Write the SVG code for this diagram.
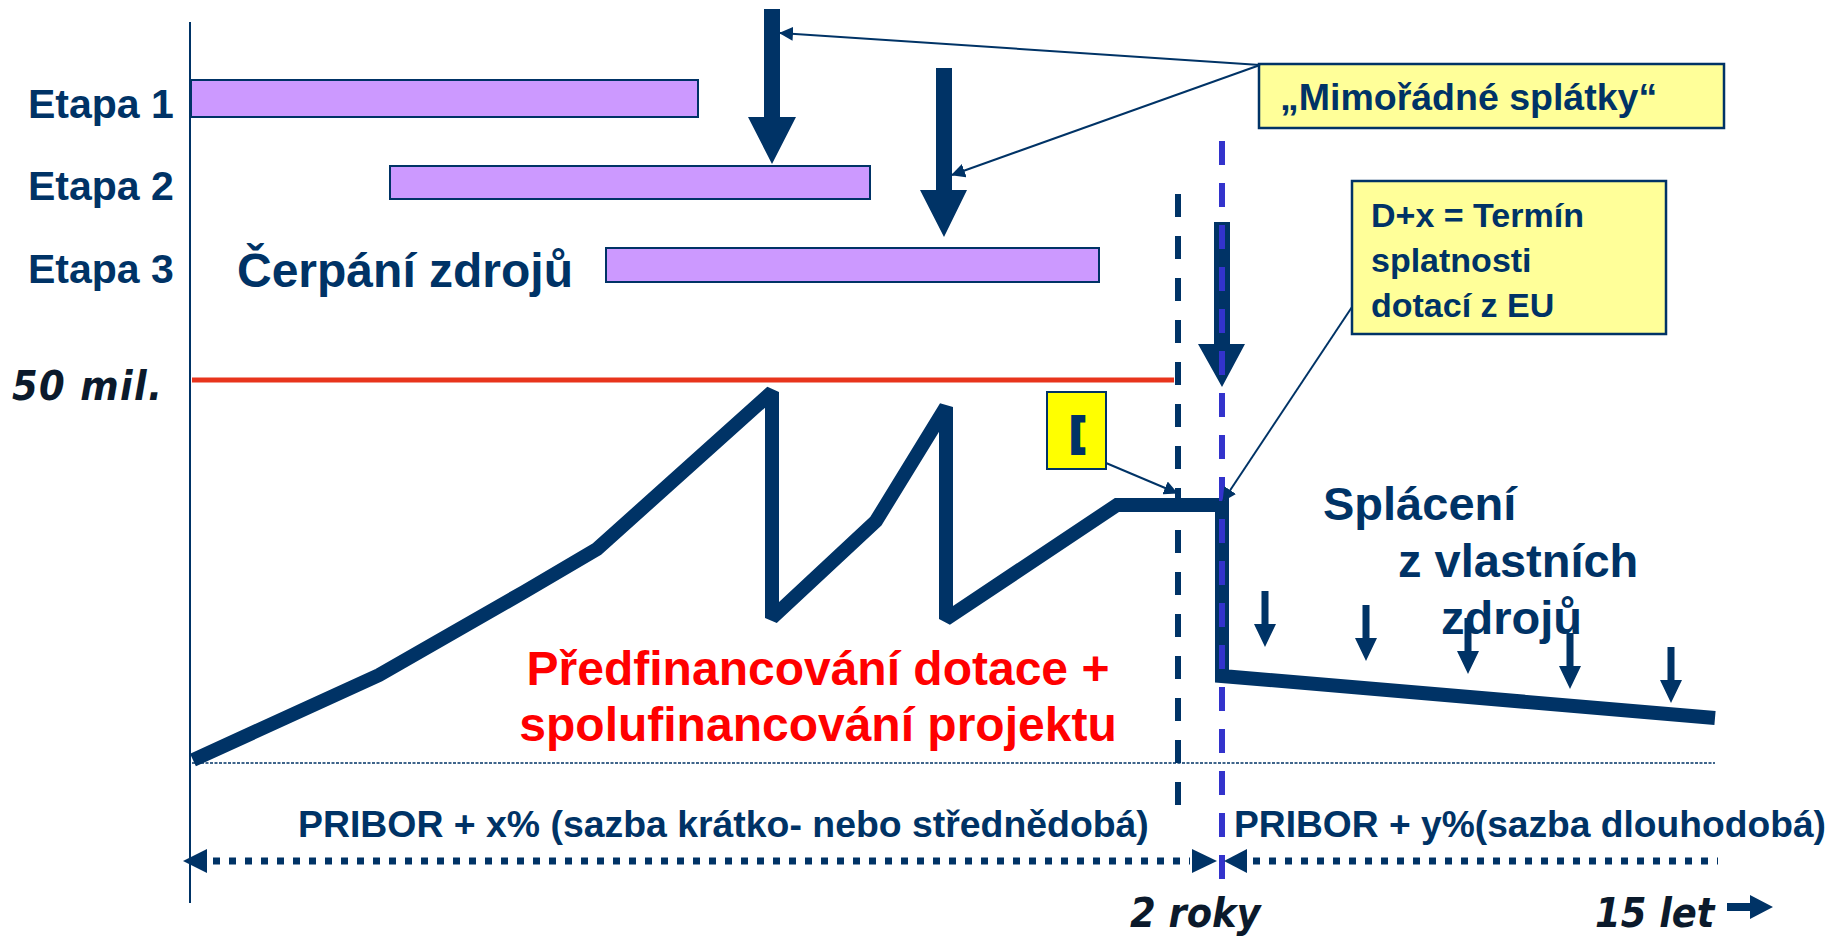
<svg xmlns="http://www.w3.org/2000/svg" width="1826" height="937" viewBox="0 0 1826 937">
<style>
.lbl{font-family:"Liberation Sans",Arial,sans-serif;font-weight:bold;fill:#003366}
.it{font-family:"DejaVu Sans Condensed","DejaVu Sans",sans-serif;font-weight:bold;font-style:italic;fill:#0b1a2c}
.red{font-family:"Liberation Sans",Arial,sans-serif;font-weight:bold;fill:#ff0000}
.bar{fill:#cc99ff;stroke:#003366;stroke-width:2}
.navy{fill:#003366}
.lead{stroke:#003366;stroke-width:2;fill:none;marker-end:url(#ah)}
.dots{stroke:#003366;stroke-width:7;stroke-dasharray:7 9;fill:none}
</style>
<defs>
<marker id="ah" markerUnits="userSpaceOnUse" markerWidth="14" markerHeight="14" refX="13" refY="7" orient="auto">
<path d="M0,0 L14,7 L0,14 z" fill="#003366"/>
</marker>
<path id="sarr" d="M-3.5,-56 h7 v33 h7.5 L0,0 L-11,-23 h7.5 z" fill="#003366"/>
</defs>
<rect width="1826" height="937" fill="#ffffff"/>

<g id="axis">
<line x1="190" y1="22" x2="190" y2="903" stroke="#003366" stroke-width="2"/>
<line x1="192" y1="763" x2="1715" y2="763" stroke="#003366" stroke-width="1.5" stroke-dasharray="3 1.5"/>
<line x1="192" y1="380" x2="1174" y2="380" stroke="#e8341c" stroke-width="5"/>
</g>

<g id="labels">
<text class="lbl" x="28" y="118" font-size="41">Etapa 1</text>
<text class="lbl" x="28" y="200" font-size="41">Etapa 2</text>
<text class="lbl" x="28" y="283" font-size="41">Etapa 3</text>
<text class="lbl" x="237" y="287" font-size="48">Čerpání zdrojů</text>
<text class="it" x="12" y="400" font-size="41" textLength="150" lengthAdjust="spacing">50 mil.</text>
<text class="red" x="818" y="685" font-size="48" text-anchor="middle">Předfinancování dotace +</text>
<text class="red" x="818" y="741" font-size="48" text-anchor="middle">spolufinancování projektu</text>
<text class="lbl" x="1323" y="520" font-size="47">Splácení</text>
<text class="lbl" x="1398" y="577" font-size="47">z vlastních</text>
<text class="lbl" x="1441" y="634" font-size="47">zdrojů</text>
<text class="lbl" x="298" y="837" font-size="37.4">PRIBOR + x% (sazba krátko- nebo střednědobá)</text>
<text class="lbl" x="1234" y="837" font-size="37.2">PRIBOR + y%(sazba dlouhodobá)</text>
<text class="it" x="1130" y="927" font-size="41">2 roky</text>
<text class="it" x="1595" y="927" font-size="41">15 let</text>
</g>

<g id="etapa1"><rect class="bar" x="191" y="80" width="507" height="37"/></g>
<g id="etapa2"><rect class="bar" x="390" y="166" width="480" height="33"/></g>
<g id="etapa3"><rect class="bar" x="606" y="248" width="493" height="34"/></g>

<g id="splatky-arrows">
<polygon class="navy" points="764,9 780,9 780,117 796,117 772,164 748,117 764,117"/>
<polygon class="navy" points="936,68 952,68 952,190 967,190 944,237 920,190 936,190"/>
<polygon class="navy" points="1214,222 1230,222 1230,344 1245,344 1222,387 1198,344 1214,344"/>
</g>

<g id="black-dashed">
<line x1="1178" y1="194" x2="1178" y2="805" stroke="#003366" stroke-width="6" stroke-dasharray="23 19"/>
</g>

<g id="balance-line">
<polyline points="193,760 379,675 524,592 597,549 772,392 772,618 876,521 946,407 946,619 1117,505 1222,505 1222,676 1715,718" fill="none" stroke="#003366" stroke-width="14" stroke-linejoin="miter" stroke-miterlimit="2"/>
</g>

<g id="blue-dashed">
<line x1="1222" y1="123" x2="1222" y2="888" stroke="#3333cc" stroke-width="6" stroke-dasharray="24 18" stroke-dashoffset="-18"/>
</g>

<g id="repayments">
<use href="#sarr" x="1265" y="647"/>
<use href="#sarr" x="1366" y="661"/>
<use href="#sarr" x="1468" y="674"/>
<use href="#sarr" x="1570" y="689"/>
<use href="#sarr" x="1671" y="703"/>
</g>

<g id="callout-mimoradne">
<rect x="1259" y="64" width="465" height="64" fill="#ffff99" stroke="#003366" stroke-width="2.5"/>
<text class="lbl" x="1280" y="110" font-size="37.5">„Mimořádné splátky“</text>
</g>

<g id="callout-dx">
<rect x="1352" y="181" width="314" height="153" fill="#ffff99" stroke="#003366" stroke-width="2.5"/>
<text class="lbl" x="1371" y="227" font-size="34">D+x = Termín</text>
<text class="lbl" x="1371" y="272" font-size="34">splatnosti</text>
<text class="lbl" x="1371" y="317" font-size="34">dotací z EU</text>
</g>

<g id="callout-small">
<rect x="1047" y="392" width="59" height="77" fill="#ffff00" stroke="#003366" stroke-width="2"/>
<text x="1071" y="445" font-family="Liberation Sans,Arial,sans-serif" font-weight="bold" font-size="38" fill="#003366" stroke="#003366" stroke-width="4">[</text>
</g>

<g id="connectors">
<line class="lead" x1="1260" y1="65" x2="780" y2="33"/>
<line class="lead" x1="1260" y1="65" x2="952" y2="175"/>
<line class="lead" x1="1352" y1="307" x2="1223" y2="501"/>
<line class="lead" x1="1106" y1="463" x2="1177" y2="493"/>
<line class="dots" x1="213" y1="861" x2="1190" y2="861"/>
<polygon class="navy" points="183,861 207,849 207,873"/>
<polygon class="navy" points="1217,861 1192,849 1192,873"/>
<line class="dots" x1="1253" y1="861" x2="1718" y2="861"/>
<polygon class="navy" points="1224,861 1247,849 1247,873"/>
<polygon class="navy" points="1727,903 1750,903 1750,895 1773,907 1750,919 1750,911 1727,911"/>
</g>
</svg>
